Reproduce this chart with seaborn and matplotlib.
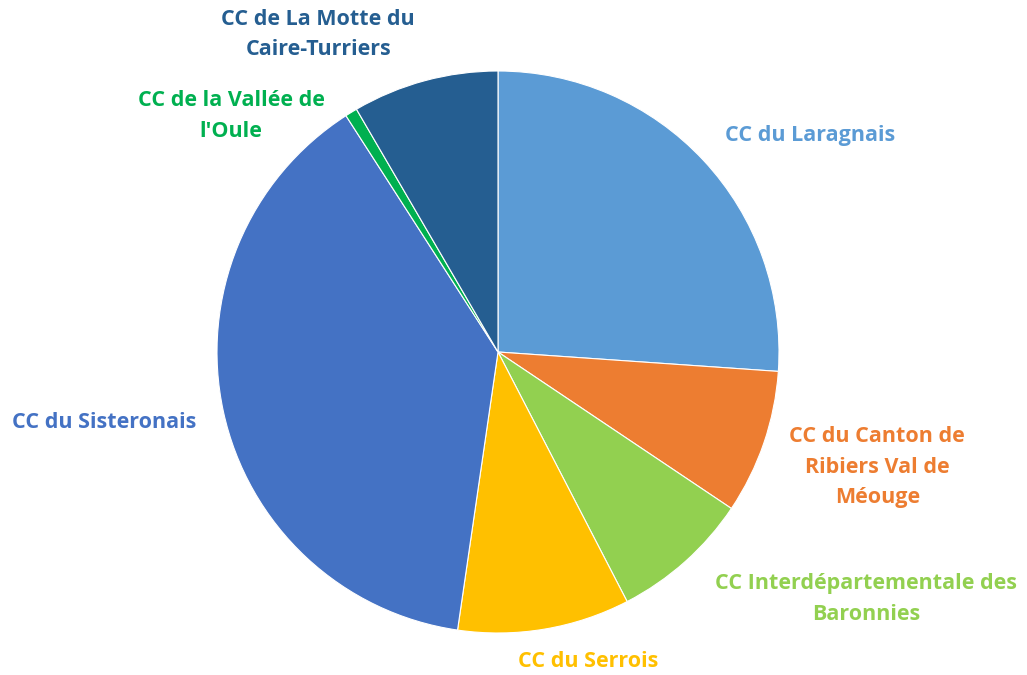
import seaborn as sns
import matplotlib
matplotlib.use('Agg')
import matplotlib.pyplot as plt

sns.set_theme(style="white")
plt.rcParams['font.family'] = ['Open Sans', 'DejaVu Sans']

labels = [
    "CC du Laragnais",
    "CC du Canton de\nRibiers Val de\nMéouge",
    "CC Interdépartementale des\nBaronnies",
    "CC du Serrois",
    "CC du Sisteronais",
    "CC de la Vallée de\nl'Oule",
    "CC de La Motte du\nCaire-Turriers",
]
shares = [26.1, 8.3, 8.0, 9.9, 38.6, 0.7, 8.4]
colors = ["#5B9BD5", "#ED7D31", "#92D050", "#FFC000", "#4472C4", "#00B050", "#255E91"]

# where each label sits, in units of the pie radius
label_pos = [(1.11, 0.77), (1.35, -0.41), (1.31, -0.88), (0.32, -1.10),
             (-1.40, -0.25), (-0.95, 0.84), (-0.64, 1.13)]

fig = plt.figure(figsize=(10.27, 6.75), dpi=100)
ax = fig.add_axes([217 / 1027, 42 / 675, 562 / 1027, 562 / 675])
ax.pie(shares, colors=colors, startangle=90, counterclock=False,
       wedgeprops=dict(edgecolor="white", linewidth=0.8), radius=1)
ax.set_xlim(-1, 1)
ax.set_ylim(-1, 1)
ax.set_aspect("equal")
ax.axis("off")

for text, (x, y), c in zip(labels, label_pos, colors):
    ax.text(x, y, text, color=c, ha="center", va="center", fontsize=15.5,
            fontweight="bold", linespacing=1.6, clip_on=False)

fig.savefig("out.png", dpi=100)
